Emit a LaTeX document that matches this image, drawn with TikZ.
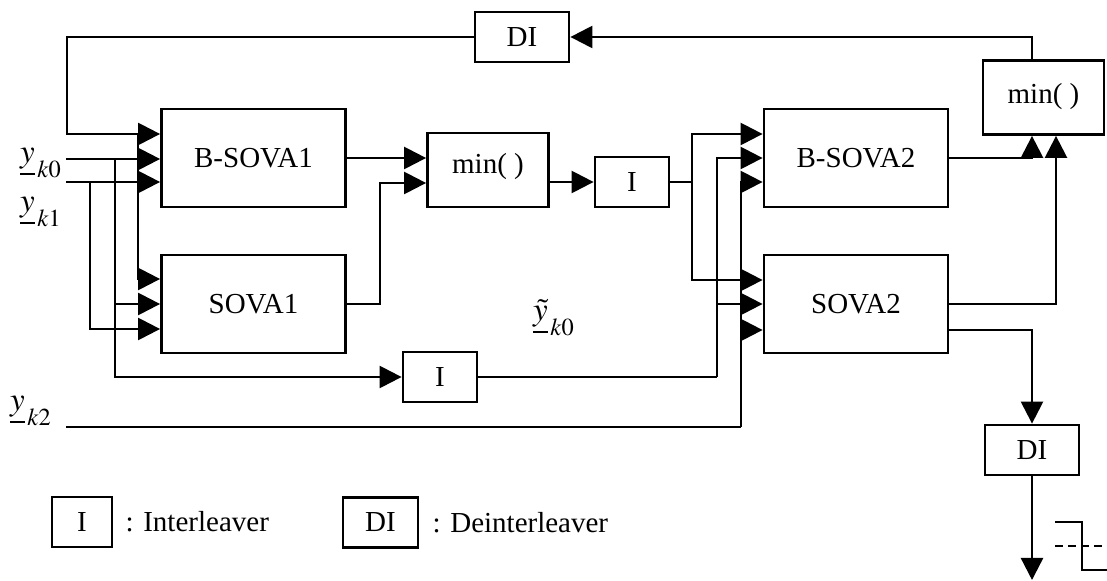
\documentclass[tikz,border=0pt]{standalone}
\usepackage{mathptmx}
\usepackage{fontspec}
\setmainfont{Liberation Serif}
\usetikzlibrary{arrows.meta,calc,positioning}

\begin{document}
\begin{tikzpicture}[x=0.5pt, y=-0.5pt, line width=1.2pt,
  box/.style={rectangle, draw, line width=1.4pt, inner sep=0pt,
    font=\fontsize{14.5}{17}\selectfont},
  sova/.style={box, minimum width=92pt, minimum height=49pt},
  minbox/.style={box, minimum width=60.5pt, minimum height=37pt, text depth=7pt},
  ilv/.style={box, minimum width=37pt, minimum height=25pt},
  dil/.style={ilv, minimum width=47pt},
  arr/.style={-{Triangle[length=11pt, width=11pt]}},
  lbl/.style={inner sep=0pt, font=\fontsize{14.5}{17}\selectfont},
  sym/.style={inner sep=0pt, font=\fontsize{16.5}{19}\selectfont},
]
  \useasboundingbox (0,0) rectangle (1107,581);

  % decoders
  \node[sova] (bsova1) at (253.5,158) {B-SOVA1};
  \node[sova] (sova1) at (253.5,304) {SOVA1};
  \node[sova] (bsova2) at (856,158) {B-SOVA2};
  \node[sova] (sova2) at (856,304) {SOVA2};
  \node[minbox] (min1) at (488,170) {min( )};
  \node[minbox, text depth=4pt] (min2) at (1043.5,97.5) {min( )};
  \node[ilv] (il1) at (632,182) {I};
  \node[ilv] (il2) at (440,377) {I};
  \node[dil] (di1) at (522,37) {DI};
  \node[dil] (di2) at (1032,450) {DI};

  % inputs
  \node[sym] (lyk0) at (41,163) {$\underline{y}_{\,k0}$};
  \node[sym] (lyk1) at (41,212) {$\underline{y}_{\,k1}$};
  \node[sym] (lyk2) at (31,411) {$\underline{y}_{\,k2}$};
  \node[sym] (lyt0) at (554,321) {$\underline{\smash{\tilde{y}}\vphantom{y}}_{\,k0}$};
  \coordinate (yk0) at (66,159);
  \coordinate (yk1) at (66,182);
  \coordinate (yk2) at (66,427);
  \coordinate (s0) at (115,159);
  \coordinate (s1) at (90,182);
  \coordinate (fbL) at (67,134);
  \coordinate (f1) at (138,134);
  \coordinate (j1) at (380,183);
  \coordinate (j2) at (692,182);
  \coordinate (j3) at (717,377);
  \coordinate (j4) at (741,427);
  \coordinate (m2a) at ($(min2.south)+(-11.5,0)$);
  \coordinate (m2b) at ($(min2.south)+(12.5,0)$);
  \coordinate (out) at (1032,580);

  % first stage
  \draw[arr] (yk0) -- (yk0 -| bsova1.west);
  \draw[arr] (yk1) -- (yk1 -| bsova1.west);
  \draw[arr] (s0) |- (sova1.west);
  \draw[arr] (s0) |- (il2.west);
  \draw[arr] (s1) |- ($(sova1.west)+(0,25)$);
  \draw[arr] (di1.west) -| (fbL) -- (fbL -| bsova1.west);
  \draw[arr] (f1) |- ($(sova1.west)+(0,-25)$);
  \draw[arr] (bsova1.east) -- (bsova1.east -| min1.west);
  \draw[arr] (sova1.east) -| (j1) -- (j1 -| min1.west);
  \draw[arr] (min1.east |- il1) -- (il1.west);

  % second stage
  \draw (il1.east) -- (j2);
  \draw[arr] (j2) |- ($(bsova2.west)+(0,-24)$);
  \draw[arr] (j2) |- ($(sova2.west)+(0,-24)$);
  \draw (il2.east) -- (j3);
  \draw[arr] (j3) |- (bsova2.west);
  \draw[arr] (j3) |- (sova2.west);
  \draw (yk2) -- (j4);
  \draw[arr] (j4) |- ($(bsova2.west)+(0,24)$);
  \draw[arr] (j4) |- ($(sova2.west)+(0,26)$);
  \draw[arr] (bsova2.east) -| (m2a);
  \draw[arr] (sova2.east) -| (m2b);
  \draw[arr] (m2a |- min2.north) |- (di1.east);
  \draw[arr] ($(sova2.east)+(0,26)$) -| (di2.north);
  \draw[arr] (di2.south) -- (out);

  % hard decision
  \draw (1055,522) -- (1082,522) -- (1082,570) -- (1107,570);
  \draw[dash pattern=on 4pt off 2.5pt] (1055,546) -- (1107,546);

  % legend
  \node[ilv, minimum width=30pt] (keyI) at (82,522) {I};
  \node[lbl, right=5.5pt of keyI] (keyItxt) {: Interleaver};
  \node[dil, minimum width=37.5pt] (keyDI) at (380.5,522.5) {DI};
  \node[lbl, right=6pt of keyDI] (keyDItxt) {: Deinterleaver};
\end{tikzpicture}
\end{document}
